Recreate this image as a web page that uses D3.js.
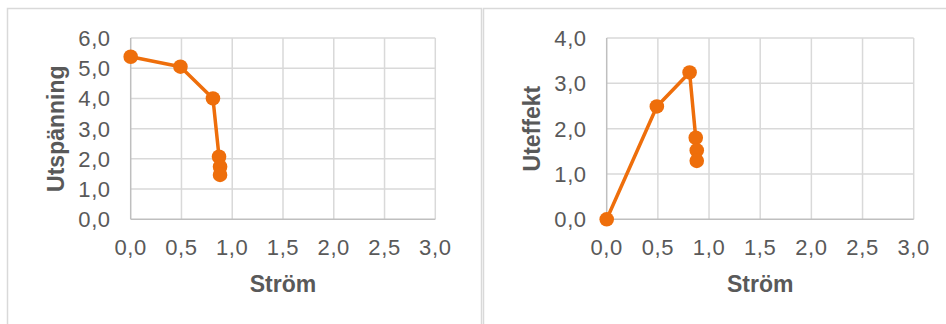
<!DOCTYPE html>
<html>
<head>
<meta charset="utf-8">
<script src="https://cdn.jsdelivr.net/npm/d3@7"></script>
<style>
  html, body { margin: 0; padding: 0; background: #ffffff; }
  svg { display: block; font-family: "Liberation Sans", Arial, sans-serif; }
</style>
</head>
<body>
<svg id="chart" width="946" height="324"></svg>
<script>
// Measured values: current (A), output voltage (V), output power (W)
const strom = [0, 0.49, 0.81, 0.87, 0.88, 0.88];
const utspanning = [5.38, 5.05, 4.0, 2.07, 1.74, 1.47];
const uteffekt = [0, 2.49, 3.24, 1.80, 1.52, 1.29];

const xTicks = [0, 0.5, 1.0, 1.5, 2.0, 2.5, 3.0];
const yTicksU = [0, 1, 2, 3, 4, 5, 6];
const yTicksP = [0, 1, 2, 3, 4];

const fmt = v => d3.format(".1f")(v).replace(".", ",");

const ORANGE = "#EE6E0B";
const GRID = "#d9d9d9";
const AXIS = "#bfbfbf";
const TEXT = "#595959";

const svg = d3.select("#chart");

// Chart frames
svg.append("rect").attr("x", 7.5).attr("y", 8.5).attr("width", 474).attr("height", 340)
  .attr("fill", "#fff").attr("stroke", GRID).attr("stroke-width", 1.5);
svg.append("rect").attr("x", 483.5).attr("y", 8.5).attr("width", 480).attr("height", 340)
  .attr("fill", "#fff").attr("stroke", GRID).attr("stroke-width", 1.5);

function drawChart(cfg) {
  const g = svg.append("g");
  const x = d3.scaleLinear().domain([0, 3]).range([cfg.left, cfg.right]);
  const y = d3.scaleLinear().domain([0, cfg.yMax]).range([cfg.bottom, cfg.top]);

  // Grid
  g.selectAll(".hg").data(cfg.yTicks.slice(1)).join("line")
    .attr("x1", x(0)).attr("x2", x(3))
    .attr("y1", d => y(d)).attr("y2", d => y(d))
    .attr("stroke", GRID).attr("stroke-width", 1.5);
  g.selectAll(".vg").data(xTicks.slice(1)).join("line")
    .attr("x1", d => x(d)).attr("x2", d => x(d))
    .attr("y1", y(0)).attr("y2", y(cfg.yMax))
    .attr("stroke", GRID).attr("stroke-width", 1.5);

  // Axis lines
  g.append("line").attr("x1", x(0)).attr("x2", x(3)).attr("y1", y(0)).attr("y2", y(0))
    .attr("stroke", AXIS).attr("stroke-width", 1.5);
  g.append("line").attr("x1", x(0)).attr("x2", x(0)).attr("y1", y(0)).attr("y2", y(cfg.yMax))
    .attr("stroke", AXIS).attr("stroke-width", 1.5);

  // Tick labels
  g.selectAll(".yl").data(cfg.yTicks).join("text")
    .attr("x", x(0) - 20).attr("y", d => y(d) + 8)
    .attr("text-anchor", "end").attr("fill", TEXT)
    .attr("font-size", 22).attr("letter-spacing", "0.6px")
    .text(fmt);
  g.selectAll(".xl").data(xTicks).join("text")
    .attr("x", d => x(d)).attr("y", 255)
    .attr("text-anchor", "middle").attr("fill", TEXT)
    .attr("font-size", 22).attr("letter-spacing", "0.6px")
    .text(fmt);

  // Axis titles
  g.append("text").attr("x", (x(0) + x(3)) / 2).attr("y", 292)
    .attr("text-anchor", "middle").attr("fill", TEXT)
    .attr("font-size", 23).attr("font-weight", "bold").text("Ström");
  g.append("text")
    .attr("transform", `translate(${cfg.titleX},${(y(0) + y(cfg.yMax)) / 2}) rotate(-90)`)
    .attr("text-anchor", "middle").attr("fill", TEXT)
    .attr("font-size", 23).attr("font-weight", "bold").text(cfg.title);

  // Series
  const pts = strom.map((s, i) => [s, cfg.values[i]]);
  g.append("path").datum(pts)
    .attr("d", d3.line().x(d => x(d[0])).y(d => y(d[1])))
    .attr("fill", "none").attr("stroke", ORANGE).attr("stroke-width", 3.5)
    .attr("stroke-linejoin", "round");
  g.selectAll(".pt").data(pts).join("circle")
    .attr("cx", d => x(d[0])).attr("cy", d => y(d[1])).attr("r", 7.3)
    .attr("fill", ORANGE);
}

drawChart({ left: 130.7, right: 435.3, top: 38, bottom: 219.3, yMax: 6,
  yTicks: yTicksU, values: utspanning, title: "Utspänning", titleX: 64 });
drawChart({ left: 606.7, right: 913.7, top: 38, bottom: 219.3, yMax: 4,
  yTicks: yTicksP, values: uteffekt, title: "Uteffekt", titleX: 540 });
</script>
</body>
</html>
